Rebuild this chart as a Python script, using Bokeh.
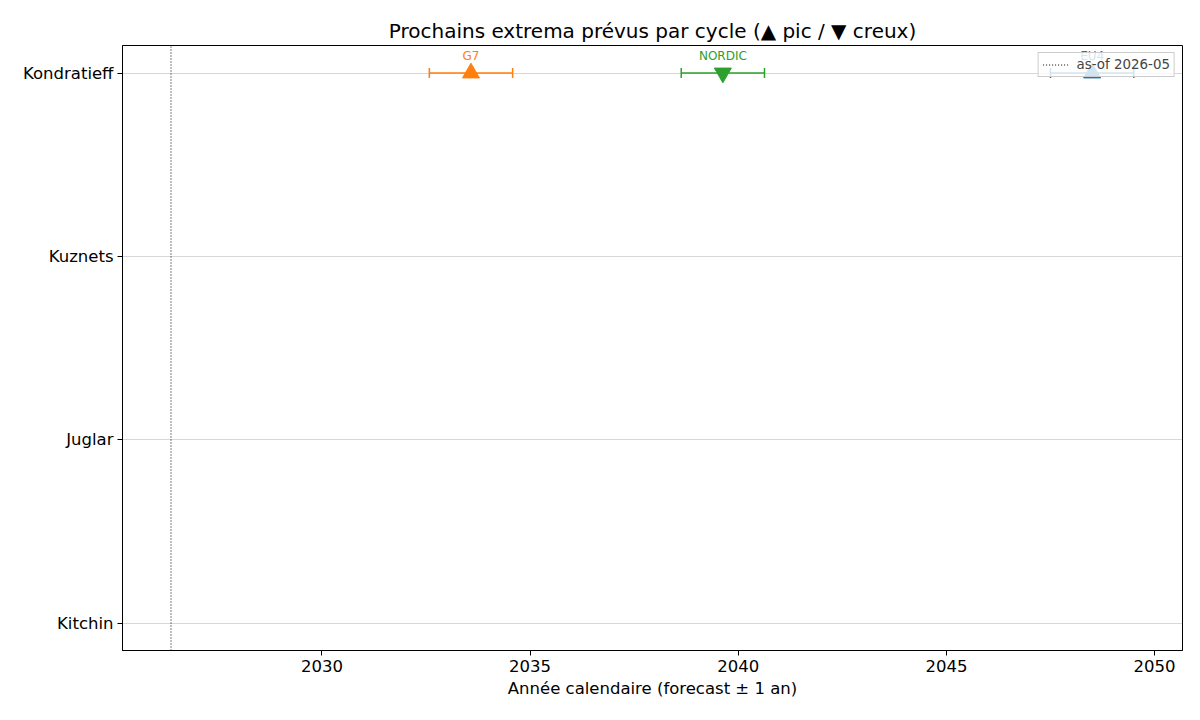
from bokeh.plotting import figure
from bokeh.models import (ColumnDataSource, Whisker, TeeHead, Legend, LegendItem,
                          FixedTicker, Range1d)
from bokeh.embed import file_html
from bokeh.resources import INLINE
from bokeh.core.properties import value

# ---- data ----
cycles = ["Kitchin", "Juglar", "Kuznets", "Kondratieff"]
regions = ["G7", "NORDIC", "EU4"]
region_cycle = ["Kondratieff", "Kondratieff", "Kondratieff"]
forecast_year = [2033.58, 2039.63, 2048.5]
extremum_kind = ["pic", "creux", "pic"]
region_colors = ["#ff7f0e", "#2ca02c", "#1f77b4"]
uncertainty = [1.0, 1.0, 1.0]
asof_year = 2026.375
asof_label = "as-of 2026-05"
x_ticks = [2030, 2035, 2040, 2045, 2050]
x_lim = (2025.21, 2050.67)
y_lim = (-0.15, 3.15)

FONT = "DejaVu Sans"

p = figure(width=1184, height=704, output_backend="svg", toolbar_location=None,
           x_range=Range1d(*x_lim), y_range=Range1d(*y_lim),
           min_border_left=122, min_border_right=2, min_border_top=45, min_border_bottom=54)

p.title.text = "Prochains extrema prévus par cycle (▲ pic / ▼ creux)"
p.title.align = "center"
p.title.text_font = FONT
p.title.text_font_size = "20px"
p.title.text_font_style = "normal"
p.title.text_color = "black"
p.title.standoff = 6

p.outline_line_color = "black"
p.outline_line_alpha = 1.0
p.outline_line_width = 1

# axes
p.xaxis.ticker = FixedTicker(ticks=x_ticks)
p.xaxis.axis_label = "Année calendaire (forecast ± 1 an)"
p.yaxis.ticker = FixedTicker(ticks=list(range(len(cycles))))
p.yaxis.major_label_overrides = {i: c for i, c in enumerate(cycles)}
for ax in (p.xaxis, p.yaxis):
    ax.axis_line_color = "black"
    ax.major_tick_line_color = "black"
    ax.major_tick_out = 5
    ax.major_tick_in = 0
    ax.minor_tick_line_color = None
    ax.major_label_text_font = FONT
    ax.major_label_text_font_size = "16.5px"
    ax.major_label_text_color = "black"
    ax.major_label_standoff = 4
    ax.axis_label_text_font = FONT
    ax.axis_label_text_font_size = "16.5px"
    ax.axis_label_text_font_style = "normal"
    ax.axis_label_text_color = "black"
    ax.axis_label_standoff = 4

p.xgrid.grid_line_color = None
p.ygrid.ticker = FixedTicker(ticks=list(range(len(cycles))))
p.ygrid.grid_line_color = "#b0b0b0"
p.ygrid.grid_line_alpha = 0.5
p.ygrid.grid_line_width = 1

# as-of line (spans the full y range)
asof_line = p.line(x=[asof_year, asof_year], y=[y_lim[0], y_lim[1]],
                   line_color="black", line_dash="1 2", line_width=1)

# series
marker_renderers = []
for i, reg in enumerate(regions):
    yv = cycles.index(region_cycle[i])
    x = forecast_year[i]
    col = region_colors[i]
    src = ColumnDataSource(dict(
        x=[x], y=[yv], lower=[x - uncertainty[i]], upper=[x + uncertainty[i]], label=[reg]))
    w = Whisker(base="y", lower="lower", upper="upper", dimension="width", source=src,
                line_color=col, line_width=1.5,
                upper_head=TeeHead(size=10, line_color=col, line_width=1.5),
                lower_head=TeeHead(size=10, line_color=col, line_width=1.5))
    p.add_layout(w)
    p.text(x="x", y="y", text="label", source=src, text_color=col,
           text_font=value(FONT), text_font_size="12px", text_align="center",
           text_baseline="middle", y_offset=-17)
    marker = "triangle" if extremum_kind[i] == "pic" else "inverted_triangle"
    r = p.scatter(x="x", y="y", source=src, marker=marker, size=17,
                  fill_color=col, line_color=col)
    marker_renderers.append(r)

legend = Legend(items=[LegendItem(label=asof_label, renderers=[asof_line])],
                location="top_right", margin=7, padding=4, spacing=0,
                label_text_font=FONT, label_text_font_size="13.4px",
                label_standoff=8, glyph_width=26, glyph_height=15,
                background_fill_alpha=0.8, border_line_color="#cccccc",
                border_line_alpha=1.0)
p.add_layout(legend)

# markers drawn above the legend box (as in the reference)
for r in marker_renderers:
    p.renderers.remove(r)
    r.level = "annotation"
    p.center.append(r)

open("out.html", "w").write(file_html(p, INLINE))
